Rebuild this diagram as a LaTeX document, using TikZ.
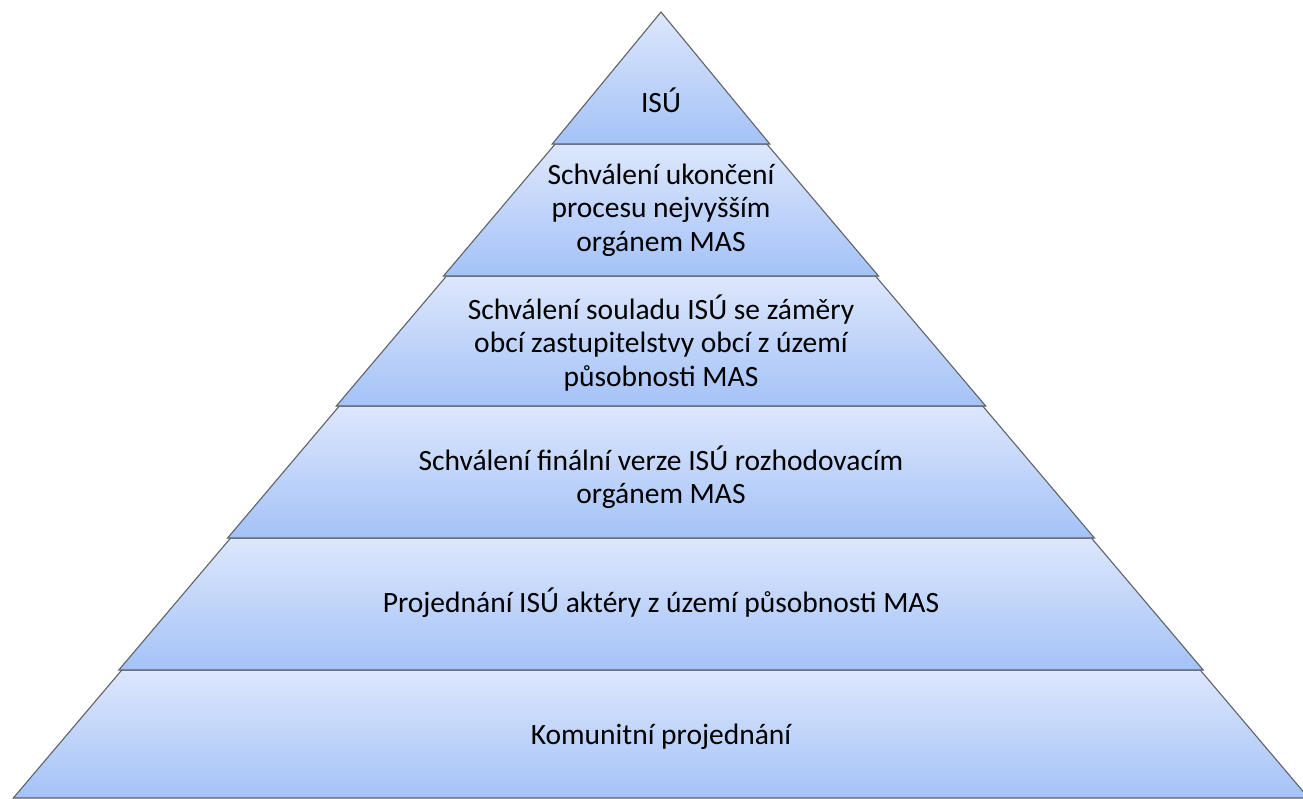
\documentclass[tikz,border=0pt]{standalone}
\usepackage{fontspec}
\setmainfont{Carlito}
\definecolor{layertop}{HTML}{DDE7FC}
\definecolor{layerbottom}{HTML}{A4C2F7}
\definecolor{layeredge}{HTML}{5E6269}
\tikzset{layer/.style={draw=layeredge, line width=1.1pt, line join=miter, top color=layertop, bottom color=layerbottom}}

\begin{document}
\begin{tikzpicture}[x=1pt, y=-1pt, font=\fontsize{29.5}{33.5}\selectfont]
    \useasboundingbox (0,0) rectangle (1303,798);
    \clip (0,0) rectangle (1303,798);

    \coordinate (apex) at (661,12);

    \coordinate (L1) at (552.2,144);
    \coordinate (R1) at (769.8,144);
    \coordinate (L2) at (443.5,276);
    \coordinate (R2) at (878.5,276);
    \coordinate (L3) at (336.3,406);
    \coordinate (R3) at (985.7,406);
    \coordinate (L4) at (227.6,538);
    \coordinate (R4) at (1094.4,538);
    \coordinate (L5) at (118.8,670);
    \coordinate (R5) at (1203.2,670);
    \coordinate (L6) at (13.3,798);
    \coordinate (R6) at (1308.7,798);

    \coordinate (TL2) at (555.2,144);
    \coordinate (TR2) at (766.8,144);
    \coordinate (TL3) at (446.5,276);
    \coordinate (TR3) at (875.5,276);
    \coordinate (TL4) at (339.3,406);
    \coordinate (TR4) at (982.7,406);
    \coordinate (TL5) at (230.6,538);
    \coordinate (TR5) at (1091.4,538);
    \coordinate (TL6) at (121.8,670);
    \coordinate (TR6) at (1200.2,670);

    % layers, from the base up
    \draw[layer] (TL6) -- (TR6) -- (R6) -- (L6) -- cycle;
    \draw[layer] (TL5) -- (TR5) -- (R5) -- (L5) -- cycle;
    \draw[layer] (TL4) -- (TR4) -- (R4) -- (L4) -- cycle;
    \draw[layer] (TL3) -- (TR3) -- (R3) -- (L3) -- cycle;
    \draw[layer] (TL2) -- (TR2) -- (R2) -- (L2) -- cycle;
    \draw[layer] (apex) -- (R1) -- (L1) -- cycle;

    \node[align=center] (isu) at (661,100) {ISÚ};
    \node[align=center] (ukonceni) at (661,210) {Schválení ukončení\\procesu nejvyšším\\orgánem MAS};
    \node[align=center] (soulad) at (661,343) {Schválení souladu ISÚ se záměry\\obcí zastupitelstvy obcí z území\\působnosti MAS};
    \node[align=center] (finalni) at (661,477) {Schválení finální verze ISÚ rozhodovacím\\orgánem MAS};
    \node[align=center] (projednani) at (661,603) {Projednání ISÚ aktéry z území působnosti MAS};
    \node[align=center] (komunitni) at (661,737) {Komunitní projednání};
\end{tikzpicture}
\end{document}
